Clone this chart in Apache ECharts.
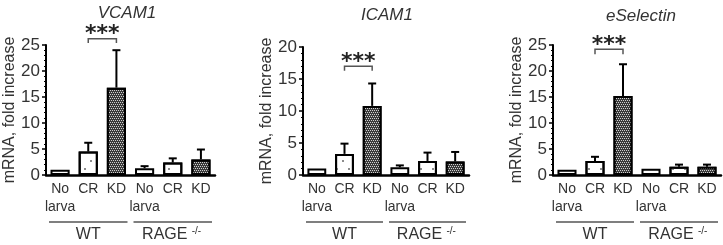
<!DOCTYPE html>
<html style="height: 100%">
<head>
    <meta charset="utf-8">
</head>
<body style="height: 100%; margin: 0; background: #fff">
<div id="container" style="width: 723px; height: 245px"></div>
<script type="text/javascript" src="https://cdn.jsdelivr.net/npm/echarts@6/dist/echarts.min.js"></script>
<script type="text/javascript">
    var categories = ['No\nlarva', 'CR', 'KD', 'No\nlarva', 'CR', 'KD'];
    var groupNames = ['WT', 'RAGE'];
    var titles = ['VCAM1', 'ICAM1', 'eSelectin'];
    var yMax = [25, 20, 25];

    // mean fold increase and top of the error bar (null = no error bar)
    var vcamMean = [1.0, 4.5, 16.8, 1.3, 2.4, 3.0];
    var vcamUpper = [null, 6.2, 24.0, 1.7, 3.2, 4.9];
    var icamMean = [1.0, 3.3, 10.8, 1.2, 2.2, 2.1];
    var icamUpper = [null, 4.9, 14.3, 1.5, 3.5, 3.6];
    var eselMean = [1.0, 2.7, 15.2, 1.2, 1.6, 1.6];
    var eselUpper = [null, 3.5, 21.3, null, 2.0, 2.0];

    // significance bracket: [from category, to category, top, leg end]
    var vcamBracket = [1, 2, 26.2, 25.4];
    var icamBracket = [1, 2, 17.0, 16.3];
    var eselBracket = [1, 2, 24.2, 23.2];

    var FONT = '"Liberation Sans", Arial, sans-serif';
    var TEXT = '#333';

    var plainStyle = {color: '#fff', borderColor: '#000', borderWidth: 2};
    var dotStyle = {
        color: '#fff', borderColor: '#000', borderWidth: 2,
        decal: {symbol: 'circle', symbolSize: 1, color: '#666',
            dashArrayX: [[2, 10], [0, 6, 2, 4]], dashArrayY: [2, 6]}
    };
    var checkStyle = {
        color: '#3a3a3a', borderColor: '#000', borderWidth: 2,
        decal: {symbol: 'rect', symbolSize: 1, color: '#d0d0d0',
            dashArrayX: [[1, 1], [0, 1, 1, 0]], dashArrayY: [1, 1]}
    };
    var barStyles = [plainStyle, dotStyle, checkStyle, plainStyle, dotStyle, checkStyle];

    var panels = [
        {mean: vcamMean, upper: vcamUpper, bracket: vcamBracket, titleX: 122, titleY: 0,
            grid: {left: 46, top: 45, width: 169, height: 130}, nameGap: 25},
        {mean: icamMean, upper: icamUpper, bracket: icamBracket, titleX: 382, titleY: 2,
            grid: {left: 303, top: 47, width: 166, height: 128}, nameGap: 27},
        {mean: eselMean, upper: eselUpper, bracket: eselBracket, titleX: 636, titleY: 3,
            grid: {left: 553, top: 45, width: 168, height: 130}, nameGap: 24}
    ];

    function renderError(params, api) {
        var base = api.coord([api.value(0), api.value(1)]);
        var top = api.coord([api.value(0), api.value(2)]);
        var st = {stroke: '#000', lineWidth: 2};
        return {
            type: 'group', children: [
                {type: 'line', shape: {x1: base[0], y1: base[1], x2: top[0], y2: top[1]}, style: st},
                {type: 'line', shape: {x1: top[0] - 4, y1: top[1], x2: top[0] + 4, y2: top[1]}, style: st}
            ]
        };
    }

    function renderBracket(params, api) {
        var a = api.coord([api.value(0), api.value(3)]);
        var b = api.coord([api.value(0), api.value(2)]);
        var c = api.coord([api.value(1), api.value(2)]);
        var d = api.coord([api.value(1), api.value(3)]);
        return {
            type: 'group', children: [
                {type: 'polyline', shape: {points: [a, b, c, d]},
                    style: {stroke: '#555', lineWidth: 1.5, fill: null}},
                {type: 'text', x: (b[0] + c[0]) / 2, y: b[1] - 4,
                    style: {text: '***', font: 'bold 22px "DejaVu Sans"', fill: '#222',
                        align: 'center', verticalAlign: 'middle'}}
            ]
        };
    }

    function renderGroup(params, api) {
        var band = api.size([1, 0])[0];
        var p0 = api.coord([api.value(0), 0]);
        var p1 = api.coord([api.value(1), 0]);
        var x1 = p0[0] - band / 2 + 3;
        var x2 = p1[0] + band / 2 - 3;
        var y = p0[1] + 47;
        var cx = (p0[0] + p1[0]) / 2;
        var name = groupNames[api.value(2)];
        var children = [
            {type: 'line', shape: {x1: x1, y1: y, x2: x2, y2: y}, style: {stroke: '#555', lineWidth: 1.5}}
        ];
        if (name === 'WT') {
            children.push({type: 'text', x: cx, y: y + 13,
                style: {text: name, font: '16px ' + FONT, fill: TEXT, align: 'center', verticalAlign: 'middle'}});
        } else {
            children.push({type: 'text', x: cx - 8, y: y + 13,
                style: {text: name, font: '16px ' + FONT, fill: TEXT, align: 'center', verticalAlign: 'middle'}});
            children.push({type: 'text', x: cx + 19, y: y + 9,
                style: {text: '-/-', font: '10px ' + FONT, fill: TEXT, align: 'left', verticalAlign: 'middle'}});
        }
        return {type: 'group', children: children};
    }

    var dom = document.getElementById('container');
    var myChart = echarts.init(dom, null, {renderer: 'canvas'});

    var option = {
        animation: false,
        backgroundColor: '#fff',
        textStyle: {fontFamily: FONT},
        title: [],
        grid: [],
        xAxis: [],
        yAxis: [],
        series: []
    };

    panels.forEach(function (p, i) {
        option.title.push({
            text: titles[i], left: p.titleX, top: p.titleY, textAlign: 'center',
            textStyle: {fontSize: 17, fontStyle: 'italic', fontWeight: 'normal', color: TEXT, fontFamily: FONT}
        });
        option.grid.push(p.grid);
        option.xAxis.push({
            type: 'category', gridIndex: i, data: categories,
            axisLine: {lineStyle: {color: '#000', width: 2.5}},
            axisTick: {inside: true, length: 3, lineStyle: {color: '#000', width: 1.5}},
            axisLabel: {interval: 0, fontSize: 14, lineHeight: 18, color: TEXT, margin: 5}
        });
        option.yAxis.push({
            type: 'value', gridIndex: i, min: 0, max: yMax[i], interval: 5,
            name: 'mRNA, fold increase', nameLocation: 'middle', nameGap: p.nameGap,
            nameTextStyle: {fontSize: 16, color: TEXT},
            axisLine: {show: true, lineStyle: {color: '#000', width: 2}},
            axisTick: {show: true, length: 4, lineStyle: {color: '#000', width: 1.5}},
            minorTick: {show: true, splitNumber: 5, length: 2, lineStyle: {color: '#000', width: 1}},
            splitLine: {show: false},
            axisLabel: {fontSize: 17, color: TEXT, margin: 6}
        });
        option.series.push({
            type: 'bar', xAxisIndex: i, yAxisIndex: i, barWidth: '68%',
            data: p.mean.map(function (v, k) {
                return {value: v, itemStyle: barStyles[k]};
            })
        });
        var errData = [];
        p.upper.forEach(function (u, k) {
            if (u !== null) errData.push([k, p.mean[k], u]);
        });
        option.series.push({
            type: 'custom', xAxisIndex: i, yAxisIndex: i, z: 5, clip: false,
            renderItem: renderError, encode: {x: 0, y: 2}, data: errData
        });
        option.series.push({
            type: 'custom', xAxisIndex: i, yAxisIndex: i, z: 5, clip: false,
            renderItem: renderBracket, encode: {x: [0, 1], y: 3}, data: [p.bracket]
        });
        option.series.push({
            type: 'custom', xAxisIndex: i, yAxisIndex: i, z: 5, clip: false, silent: true,
            renderItem: renderGroup, encode: {x: [0, 1]}, data: [[0, 2, 0], [3, 5, 1]]
        });
    });

    if (option && typeof option === 'object') {
        myChart.setOption(option);
    }
</script>
</body>
</html>
